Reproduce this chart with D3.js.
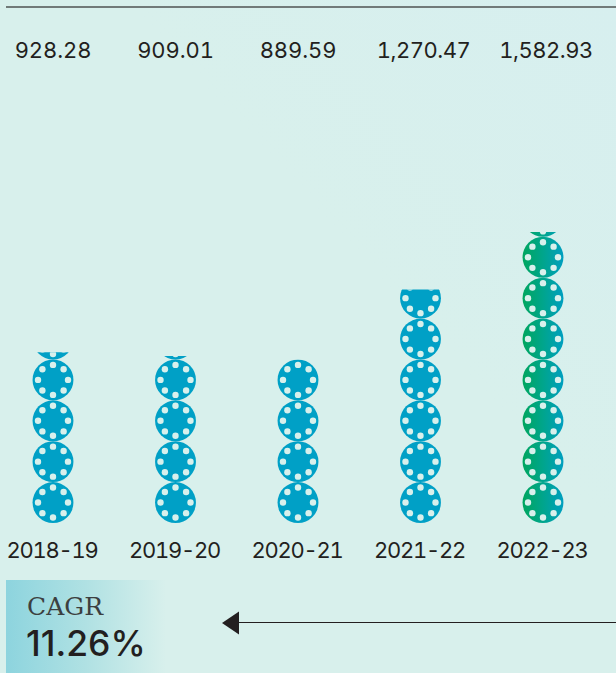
<!DOCTYPE html>
<html><head><meta charset="utf-8">
<script src="https://cdn.jsdelivr.net/npm/d3@7"></script>
<style>html,body{margin:0;padding:0;background:#d8f0ec}svg{display:block}text{font-family:Inter,"Open Sans",sans-serif;fill:#231f20}.tn{font-variant-numeric:tabular-nums;font-feature-settings:"tnum"}</style>
</head><body><div id="c"></div>
<script>
const years=["2018-19","2019-20","2020-21","2021-22","2022-23"];
const values=[928.28,909.01,889.59,1270.47,1582.93];
const valueLabels=["928.28","909.01","889.59","1,270.47","1,582.93"];
const unitValue=222.4;
const dotAngles=d3.range(0,360,45);
const W=616,H=673;
const svg=d3.select("#c").append("svg").attr("width",W).attr("height",H);
const defs=svg.append("defs");
const bg=defs.append("linearGradient").attr("id","bg").attr("x1",0).attr("x2",1).attr("y1",1).attr("y2",0);
bg.append("stop").attr("offset",0).attr("stop-color","#d8f0ec");
bg.append("stop").attr("offset",.6).attr("stop-color","#d8f0ec");
bg.append("stop").attr("offset",1).attr("stop-color","#d7efef");
const pg=defs.append("linearGradient").attr("id","panel");
pg.append("stop").attr("offset",0).attr("stop-color","#8dd4de");
pg.append("stop").attr("offset",.5).attr("stop-color","#b0e1e3");
pg.append("stop").attr("offset",1).attr("stop-color","#d8f0ec");
const gg=defs.append("linearGradient").attr("id","green");
gg.append("stop").attr("offset",0).attr("stop-color","#00a65e");
gg.append("stop").attr("offset",.5).attr("stop-color","#00a58c");
gg.append("stop").attr("offset",1).attr("stop-color","#009fc0");
svg.append("rect").attr("width",W).attr("height",H).attr("fill","url(#bg)");

const x=d3.scalePoint().domain(years).range([53,543]);
const y=d3.scaleLinear().domain([0,values[4]]).range([523,232]);
const r=(y(0)-y(unitValue))/2;

svg.append("line").attr("x1",6).attr("x2",W).attr("y1",7).attr("y2",7).attr("stroke","#4f5352").attr("stroke-width",1.4);

years.forEach((yr,i)=>{
  const cid="clip"+i;
  defs.append("clipPath").attr("id",cid).append("rect")
    .attr("x",x(yr)-30).attr("width",60).attr("y",y(values[i])).attr("height",y(0)-y(values[i]));
  const g=svg.append("g").attr("clip-path",`url(#${cid})`);
  const units=d3.range(Math.ceil(values[i]/unitValue));
  const u=g.selectAll("g").data(units).join("g")
    .attr("transform",k=>`translate(${x(yr)},${y((k+.5)*unitValue)})`);
  u.append("circle").attr("r",r).attr("fill",i===4?"url(#green)":"#00a0c6");
  u.selectAll(".d").data(dotAngles).join("circle").attr("class","d")
    .attr("cx",a=>15*Math.cos(a*Math.PI/180)).attr("cy",a=>15*Math.sin(a*Math.PI/180))
    .attr("r",3.2).attr("fill","#d8f0ec");
  const comma=valueLabels[i].includes(",");
  svg.append("text").attr("class","tn").attr("x",x(yr)+(comma?3:0)).attr("y",58).attr("text-anchor","middle").attr("font-size",22).attr("letter-spacing",comma?-.5:-.1).text(valueLabels[i]);
  svg.append("text").attr("class","tn").attr("x",x(yr)-1).attr("y",557.5).attr("text-anchor","middle").attr("font-size",22).attr("letter-spacing",-1.3).text(yr);
});

svg.append("rect").attr("x",6).attr("y",580).attr("width",160).attr("height",93).attr("fill","url(#panel)");
svg.append("text").attr("x",27).attr("y",615).attr("font-size",25).style("font-family","'DejaVu Serif',serif").style("fill","#3c3f40").text("CAGR");
svg.append("text").attr("x",26).attr("y",656).attr("font-size",35.5).attr("font-weight",500).text("11.26%");

svg.append("line").attr("x1",236).attr("x2",W).attr("y1",622.5).attr("y2",622.5).attr("stroke","#231f20").attr("stroke-width",1);
svg.append("path").attr("d",d3.line()([[222,623],[239,611.5],[239,634.5]])+"Z").attr("fill","#231f20");
</script></body></html>
